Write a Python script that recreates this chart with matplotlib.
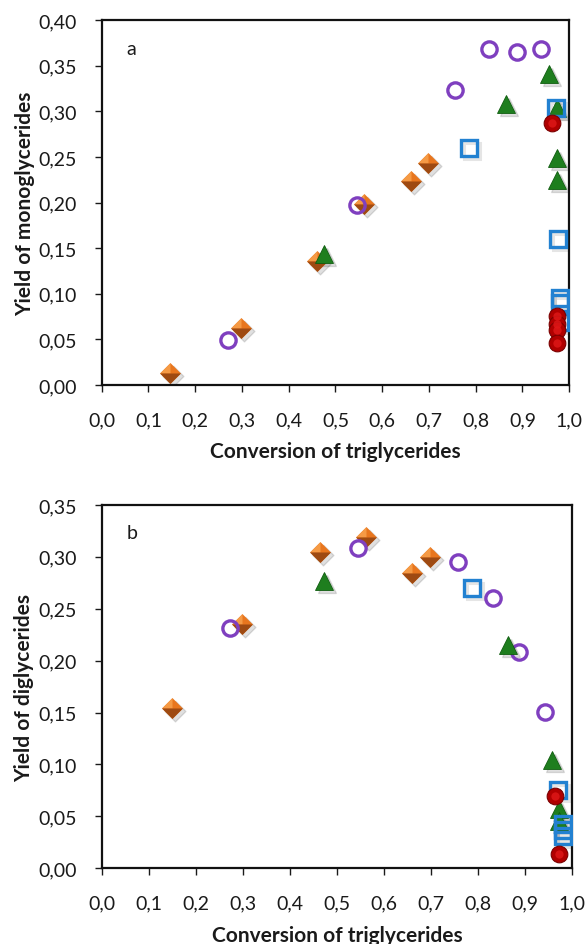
import matplotlib
matplotlib.use('Agg')
from matplotlib import pyplot as plt
from matplotlib.path import Path
from matplotlib.ticker import FuncFormatter, MultipleLocator
import matplotlib.transforms as mtransforms

plt.rcParams['font.family'] = ['Lato', 'DejaVu Sans']

# (a) yield of monoglycerides vs. conversion of triglycerides
a_dia_x = [0.146, 0.298, 0.460, 0.560, 0.661, 0.697]
a_dia_y = [0.013, 0.063, 0.136, 0.198, 0.224, 0.244]
a_circ_x = [0.271, 0.546, 0.755, 0.829, 0.888, 0.939]
a_circ_y = [0.049, 0.197, 0.323, 0.369, 0.365, 0.369]
a_tri_x = [0.476, 0.864, 0.957, 0.973, 0.975, 0.973]
a_tri_y = [0.144, 0.308, 0.341, 0.304, 0.249, 0.225]
a_sq_x = [0.786, 0.972, 0.977, 0.980, 0.980, 0.980]
a_sq_y = [0.260, 0.304, 0.160, 0.095, 0.090, 0.069]
a_red_x = [0.964, 0.973, 0.973, 0.973, 0.973]
a_red_y = [0.287, 0.076, 0.067, 0.060, 0.046]

# (b) yield of diglycerides vs. conversion of triglycerides
b_dia_x = [0.149, 0.298, 0.463, 0.561, 0.659, 0.698]
b_dia_y = [0.154, 0.235, 0.305, 0.319, 0.284, 0.300]
b_circ_x = [0.272, 0.545, 0.758, 0.832, 0.888, 0.942]
b_circ_y = [0.231, 0.309, 0.295, 0.260, 0.208, 0.151]
b_tri_x = [0.473, 0.864, 0.957, 0.972, 0.973]
b_tri_y = [0.277, 0.215, 0.104, 0.057, 0.046]
b_sq_x = [0.787, 0.971, 0.981, 0.981, 0.981]
b_sq_y = [0.270, 0.075, 0.043, 0.037, 0.031]
b_red_x = [0.964, 0.973]
b_red_y = [0.070, 0.014]

# pyramid-like diamond: full shape plus a darker lower half
diamond = Path([(0, 1), (1, 0), (0, -1), (-1, 0), (0, 1)])
diamond_low = Path([(-1, 0), (1, 0), (0, -1), (-1, 0)])
diamond_tl = Path([(-1, 0), (0, 1), (0, 0), (-1, 0)])


def comma(v, pos, nd):
    return ('{:.%df}' % nd).format(v).replace('.', ',')


def draw_series(ax, fig, dx, dy, cx, cy, tx, ty, sx, sy, rx, ry):
    shadow = mtransforms.offset_copy(ax.transData, fig=fig, x=3, y=-3, units='dots')
    sh = dict(color='#000000', alpha=0.12, linestyle='none', transform=shadow, zorder=2)
    ax.plot(dx, dy, marker=diamond, ms=15, **sh)
    ax.plot(tx, ty, marker='^', ms=13, **sh)
    ax.plot(sx, sy, marker='s', ms=11, mfc='none', mec='#000000', mew=2.2, alpha=0.10,
            linestyle='none', transform=shadow, zorder=2)

    ax.plot(dx, dy, marker=diamond, ms=15, color='#E8761E', mec='#E8761E', mew=0,
            linestyle='none', zorder=3)
    ax.plot(dx, dy, marker=diamond_tl, ms=15, color='#F59A45', mew=0,
            linestyle='none', zorder=3)
    ax.plot(dx, dy, marker=diamond_low, ms=15, color='#9E4A12', mew=0,
            linestyle='none', zorder=3)

    ax.plot(cx, cy, marker='o', ms=11, mfc='none', mec='#7F3FBF', mew=2.4,
            linestyle='none', zorder=4)
    ax.plot(tx, ty, marker='^', ms=13, color='#1E7E1E', mec='#0F5C0F', mew=0.6,
            linestyle='none', zorder=4)
    ax.plot(sx, sy, marker='s', ms=11, mfc='none', mec='#2281D1', mew=2.4,
            linestyle='none', zorder=5)
    ax.plot(rx, ry, marker='o', ms=12, color='#B00000', mec='#7A0000', mew=0.8,
            linestyle='none', zorder=6)
    ax.plot(rx, ry, marker='o', ms=6, color='#E01818', mew=0, alpha=0.8,
            linestyle='none', zorder=6)


def style_axes(ax, ymax, ystep, letter, ylabel, xlabel_y):
    ax.set_xlim(0, 1.0)
    ax.set_ylim(0, ymax)
    ax.xaxis.set_major_locator(MultipleLocator(0.1))
    ax.yaxis.set_major_locator(MultipleLocator(ystep))
    ax.xaxis.set_major_formatter(FuncFormatter(lambda v, p: comma(v, p, 1)))
    ax.yaxis.set_major_formatter(FuncFormatter(lambda v, p: comma(v, p, 2)))
    ax.tick_params(axis='x', direction='out', length=5, width=1.0, pad=14,
                   labelsize=14, colors='#1a1a1a', top=False)
    ax.tick_params(axis='y', direction='out', length=5, width=1.0, pad=13,
                   labelsize=14, colors='#1a1a1a', right=False)
    for s in ax.spines.values():
        s.set_linewidth(1.6)
        s.set_color('#111111')
    ax.set_xlabel('Conversion of triglycerides', fontsize=15, fontweight='bold',
                  color='#1a1a1a')
    ax.xaxis.set_label_coords(0.5, xlabel_y)
    ax.set_ylabel(ylabel, fontsize=15, fontweight='bold', color='#1a1a1a')
    ax.yaxis.set_label_coords(-0.143, 0.5)
    ax.text(0.052, 0.923, letter, transform=ax.transAxes, fontsize=14,
            color='#1a1a1a', ha='left', va='center')


fig = plt.figure(figsize=(5.88, 9.45), dpi=100)
ax1 = fig.add_axes([0.173, 0.5915, 0.795, 0.386])
ax2 = fig.add_axes([0.173, 0.0801, 0.800, 0.3845])

draw_series(ax1, fig, a_dia_x, a_dia_y, a_circ_x, a_circ_y, a_tri_x, a_tri_y,
            a_sq_x, a_sq_y, a_red_x, a_red_y)
style_axes(ax1, 0.40, 0.05, 'a', 'Yield of monoglycerides', -0.153)

draw_series(ax2, fig, b_dia_x, b_dia_y, b_circ_x, b_circ_y, b_tri_x, b_tri_y,
            b_sq_x, b_sq_y, b_red_x, b_red_y)
style_axes(ax2, 0.35, 0.05, 'b', 'Yield of diglycerides', -0.156)

fig.savefig('out.png', dpi=100)
